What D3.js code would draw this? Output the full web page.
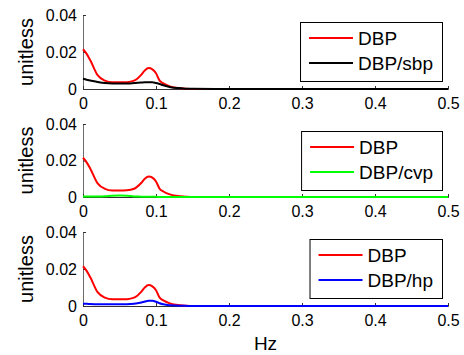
<!DOCTYPE html>
<html>
<head>
<meta charset="utf-8">
<script src="https://cdn.jsdelivr.net/npm/d3@7"></script>
<style>
  body { margin: 0; background: #fff; }
  text { font-family: "Liberation Sans", Arial, Helvetica, sans-serif; fill: #000; }
</style>
</head>
<body>
<div class="chart"></div>
<script>
// frequency grid (Hz)
const freq = [0, 0.005, 0.01, 0.02, 0.03, 0.04, 0.05, 0.06, 0.07, 0.08, 0.085, 0.09, 0.095, 0.1, 0.105, 0.11, 0.12, 0.13, 0.14, 0.15, 0.2, 0.3, 0.4, 0.5];

const dbp = [0.0215, 0.019, 0.0155, 0.0075, 0.0045, 0.0036, 0.0036, 0.0037, 0.0045, 0.0078, 0.0102, 0.0113, 0.0106, 0.0085, 0.0045, 0.003, 0.0013, 0.0005, 0.0002, 0, 0, 0, 0, 0];
const dbpSbp = [0.0055, 0.005, 0.0046, 0.0038, 0.0032, 0.003, 0.003, 0.003, 0.0032, 0.0035, 0.0036, 0.0036, 0.0036, 0.0032, 0.0027, 0.002, 0.001, 0.0005, 0.0002, 0.0001, 0, 0, 0, 0];
const dbpCvp = [0.0003, 0.0003, 0.0003, 0.0003, 0.0004, 0.0007, 0.0008, 0.0007, 0.0003, 0.0002, 0.0001, 0.0001, 0.0001, 0.0001, 0, 0, 0, 0, 0, 0, 0, 0, 0, 0];
const dbpHp = [0.0012, 0.0012, 0.0011, 0.001, 0.001, 0.001, 0.001, 0.001, 0.0012, 0.0019, 0.0024, 0.0028, 0.0028, 0.0023, 0.0015, 0.0009, 0.0004, 0.0002, 0.0001, 0, 0, 0, 0, 0];

const xTicks = [0, 0.1, 0.2, 0.3, 0.4, 0.5];
const yTicks = [0, 0.02, 0.04];

const panels = [
  { name: "DBP/sbp", values: dbpSbp, color: "#000000", top: 15, bottom: 89 },
  { name: "DBP/cvp", values: dbpCvp, color: "#00ff00", top: 124, bottom: 197 },
  { name: "DBP/hp",  values: dbpHp,  color: "#0000ff", top: 232, bottom: 306 }
];

const left = 83, right = 448;

const svg = d3.select(".chart")
  .append("svg")
    .attr("width", 464)
    .attr("height", 355);

const xScale = d3.scaleLinear().domain([0, 0.5]).range([left, right]);

panels.forEach(p => {
  const yScale = d3.scaleLinear().domain([0, 0.04]).range([p.bottom, p.top]);
  const g = svg.append("g");

  //y axis
  const yAxis = g.append("g")
    .attr("transform", `translate(${left},0)`)
    .call(d3.axisLeft(yScale).tickValues(yTicks).tickSize(-3).tickPadding(6)
      .tickFormat(d => d === 0 ? "0" : d3.format(".2f")(d)));
  yAxis.select(".domain").attr("stroke", "#6b6b6b");
  yAxis.selectAll(".tick line").attr("stroke", "#333");
  yAxis.selectAll(".tick text")
    .style("font-size", "16px")
    .style("font-family", "'Liberation Sans', Arial, sans-serif")
    .attr("fill", "#000");

  //x axis
  const xAxis = g.append("g")
    .attr("transform", `translate(0,${p.bottom})`)
    .call(d3.axisBottom(xScale).tickValues(xTicks).tickSize(-3).tickPadding(9)
      .tickFormat(d => d === 0 ? "0" : d3.format(".1f")(d)));
  xAxis.select(".domain").attr("stroke", "#333");
  xAxis.selectAll(".tick line").attr("stroke", "#333");
  xAxis.selectAll(".tick text")
    .style("font-size", "16px")
    .style("font-family", "'Liberation Sans', Arial, sans-serif")
    .attr("fill", "#000");

  //y label
  g.append("text")
    .attr("transform", `translate(33,${(p.top + p.bottom) / 2}) rotate(-90)`)
    .attr("text-anchor", "middle")
    .style("font-size", "20px")
    .text("unitless");

  //lines
  const line = d3.line()
    .curve(d3.curveMonotoneX)
    .x((d, i) => xScale(freq[i]))
    .y(d => yScale(d));

  g.append("path")
    .attr("d", line(dbp))
    .attr("fill", "none")
    .attr("stroke", "#ff0000")
    .attr("stroke-width", 2);

  g.append("path")
    .attr("d", line(p.values))
    .attr("fill", "none")
    .attr("stroke", p.color)
    .attr("stroke-width", 2);

  //legend
  const leg = g.append("g");
  const items = [{ name: "DBP", color: "#ff0000" }, { name: p.name, color: p.color }];
  const texts = leg.selectAll("text.leg")
    .data(items)
    .enter().append("text")
    .attr("class", "leg")
    .style("font-size", "19px")
    .attr("dy", "0.35em")
    .text(d => d.name);
  const tw = d3.max(texts.nodes(), n => n.getComputedTextLength());
  const boxW = 58 + tw + 9;
  const boxX = right - 6 - boxW;
  const boxY = p.top + 7;
  leg.insert("rect", "text")
    .attr("x", boxX + 0.5)
    .attr("y", boxY + 0.5)
    .attr("width", boxW)
    .attr("height", 59)
    .attr("fill", "#fff")
    .attr("stroke", "#000")
    .attr("stroke-width", 1);
  texts
    .attr("x", boxX + 58)
    .attr("y", (d, i) => boxY + 16 + i * 25);
  leg.selectAll("line.leg")
    .data(items)
    .enter().append("line")
    .attr("x1", boxX + 9)
    .attr("x2", boxX + 53)
    .attr("y1", (d, i) => boxY + 16 + i * 25)
    .attr("y2", (d, i) => boxY + 16 + i * 25)
    .attr("stroke", d => d.color)
    .attr("stroke-width", 2);
});

//x label
svg.append("text")
  .attr("x", (left + right) / 2)
  .attr("y", 350)
  .attr("text-anchor", "middle")
  .style("font-size", "19px")
  .text("Hz");
</script>
</body>
</html>
